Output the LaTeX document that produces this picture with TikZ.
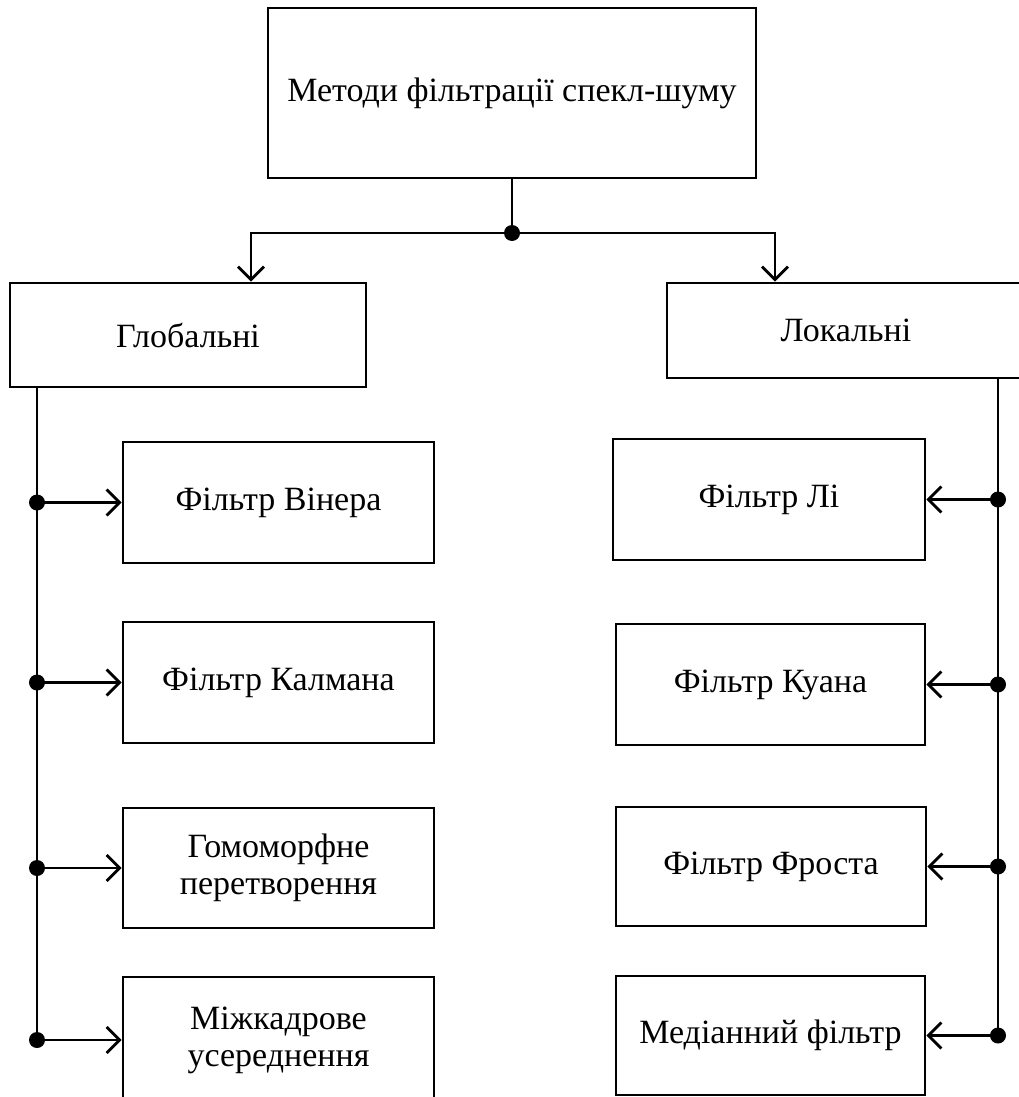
\documentclass[tikz,border=0pt]{standalone}
\usepackage{fontspec}
\setmainfont{Liberation Serif}
\usetikzlibrary{arrows.meta}
\begin{document}
\begin{tikzpicture}[x=1pt,y=-1pt,
  box/.style={draw, line width=2.9pt, align=center, inner sep=0pt,
    font=\fontsize{34}{37}\selectfont},
  conn/.style={line width=2.8pt},
  arr/.style={conn, -{Straight Barb[length=13pt,width=26pt,line width=2.8pt]}},
  jdot/.style={circle, fill, inner sep=0pt, minimum size=16pt}]
\useasboundingbox (0,0) rectangle (1019,1097);
\clip (0,0) rectangle (1019,1097);
% boxes
\node[box, minimum width=488pt, minimum height=170pt] (root) at (512,93) {Методи фільтрації спекл-шуму};
\node[box, minimum width=356pt, minimum height=104pt] (glob) at (188,335) {Глобальні};
\node[box, minimum width=358pt, minimum height=95pt] (loc) at (846,330.5) {Локальні};
\node[box, minimum width=311pt, minimum height=121pt] (vin) at (278.5,502.5) {Фільтр Вінера};
\node[box, minimum width=311pt, minimum height=121pt] (kalm) at (278.5,682.5) {Фільтр Калмана};
\node[box, minimum width=311pt, minimum height=120pt] (homo) at (278.5,868) {Гомоморфне\\перетворення};
\node[box, minimum width=311pt, minimum height=126pt] (mizh) at (278.5,1040) {Міжкадрове\\усереднення};
\node[box, minimum width=312pt, minimum height=121pt] (li) at (769,499.5) {Фільтр Лі};
\node[box, minimum width=309pt, minimum height=121pt] (kuan) at (770.5,684.5) {Фільтр Куана};
\node[box, minimum width=310pt, minimum height=119pt] (frost) at (771,866.5) {Фільтр Фроста};
\node[box, minimum width=309pt, minimum height=119pt] (med) at (770.5,1035.5) {Медіанний фільтр};
% top split
\node[jdot] (j) at (root.south |- 0,233) {};
\draw[conn] (root.south) -- (j.center);
\draw[arr] (j.center) -| ([xshift=63pt]glob.north);
\draw[arr] (j.center) -| ([xshift=-71pt]loc.north);
% left spine
\coordinate (sL) at ([xshift=-151pt]glob.south);
\draw[conn] (sL) -- (sL |- mizh.west);
\foreach \n in {vin,kalm,homo,mizh}{
  \node[jdot] (d\n) at (sL |- \n.west) {};
  \draw[arr] (d\n.center) -- (\n.west);
}
% right spine
\coordinate (sR) at ([xshift=152pt]loc.south);
\draw[conn] (sR) -- (sR |- med.east);
\foreach \n in {li,kuan,frost,med}{
  \node[jdot] (d\n) at (sR |- \n.east) {};
  \draw[arr] (d\n.center) -- (\n.east);
}
\end{tikzpicture}
\end{document}
